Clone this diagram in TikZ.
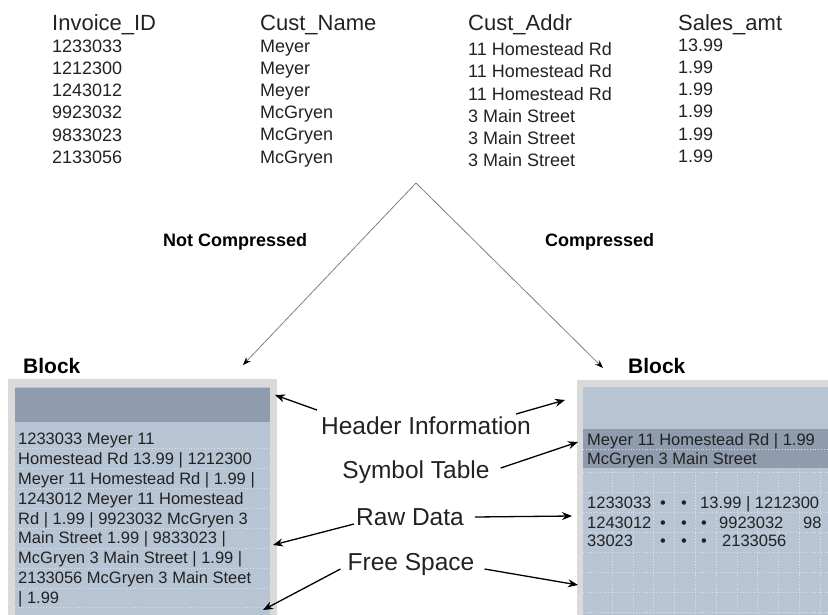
\documentclass[tikz,border=0pt]{standalone}
\usepackage{fontspec}
\setmainfont{Liberation Sans}
\usetikzlibrary{arrows, arrows.meta}
\definecolor{BLK1}{HTML}{B7C4D4}
\definecolor{BLK2}{HTML}{8E9CAE}
\definecolor{BLK3}{HTML}{DADADA}
\definecolor{TXT}{HTML}{222222}
\tikzstyle{colhead} = [anchor=base west, inner sep=0pt, font=\fontsize{22}{26}\selectfont, text=TXT]
\tikzstyle{column} = [anchor=north west, inner sep=0pt, align=left, font=\fontsize{18}{22.2}\selectfont, text=TXT]
\tikzstyle{branch} = [anchor=base west, inner sep=0pt, font=\bfseries\fontsize{18}{22}\selectfont]
\tikzstyle{blocktitle} = [anchor=base west, inner sep=0pt, font=\bfseries\fontsize{21}{25}\selectfont]
\tikzstyle{callout} = [anchor=base, inner sep=0pt, font=\fontsize{24.5}{28}\selectfont, text=TXT]
\tikzstyle{celltext} = [anchor=base west, inner sep=0pt, align=left, font=\fontsize{16.5}{19.8}\selectfont, text=TXT]
\tikzstyle{frame} = [fill=BLK3, draw=none]
\tikzstyle{body} = [fill=BLK1, draw=none]
\tikzstyle{bar} = [fill=BLK2, draw=none]
\tikzstyle{sepline} = [draw=BLK1!55!white, dotted, line width=0.8pt]
\tikzstyle{gridline} = [draw=BLK1!50!white, dotted, line width=0.8pt]
\tikzstyle{arrow} = [line width=1.3pt, -{Stealth[length=10pt,width=8pt]}]
\tikzstyle{split} = [line width=0.8pt, draw=gray, -{Stealth[length=8pt,width=6pt,color=black]}]

\begin{document}
\begin{tikzpicture}[x=1pt, y=-1pt]

\useasboundingbox (0,0) rectangle (828,615);

% table
\node (h1) [colhead] at (52,31) {Invoice\_ID};
\node (h2) [colhead] at (260,31) {Cust\_Name};
\node (h3) [colhead] at (468,31) {Cust\_Addr};
\node (h4) [colhead] at (678,31) {Sales\_amt};

\node (ids) [column] at (52,39.5) {1233033\\1212300\\1243012\\9923032\\9833023\\2133056};
\node (names) [column] at (260,39.5) {Meyer\\Meyer\\Meyer\\McGryen\\McGryen\\McGryen};
\node (addrs) [column] at (468,42.5) {11 Homestead Rd\\11 Homestead Rd\\11 Homestead Rd\\3 Main Street\\3 Main Street\\3 Main Street};
\node (amts) [column] at (678,38.5) {13.99\\1.99\\1.99\\1.99\\1.99\\1.99};

% split
\coordinate (split) at (416,183);
\coordinate (leftin) at (243,365);
\coordinate (rightin) at (603,368);

\node (nc) [branch] at (163,247) {Not Compressed};
\node (cc) [branch] at (545,247) {Compressed};

\draw [split] (split) -- (leftin);
\draw [split] (split) -- (rightin);

% left block
\node (blk1) [blocktitle] at (23,373) {Block};
\fill [frame] (8,379) rectangle (277,615);
\fill [body] (15,387) rectangle (270,615);
\fill [bar] (15,388) rectangle (270,422);
\foreach \y in {448,468,488,508,528,548,568,588,607}
  \draw [sepline] (15,\y) -- (270,\y);

\node (rawtext) [celltext, anchor=north west] at (18,433.2) {1233033 Meyer 11\\Homestead Rd 13.99 | 1212300\\Meyer 11 Homestead Rd | 1.99 |\\1243012 Meyer 11 Homestead\\Rd | 1.99 | 9923032 McGryen 3\\Main Street 1.99 | 9833023 |\\McGryen 3 Main Street | 1.99 |\\2133056 McGryen 3 Main Steet\\| 1.99};

% right block
\node (blk2) [blocktitle] at (628,373) {Block};
\fill [frame] (577,380) rectangle (828,615);
\fill [body] (583,387) rectangle (828,615);
\fill [bar] (583,429) rectangle (828,468);
\draw [sepline] (583,449) -- (828,449);
\foreach \x in {612,633,653,674,695,716,737,757,778,799,820}
  \draw [gridline] (\x,469) -- (\x,615);
\foreach \y in {472,492,512,532,552,572,592,612}
  \draw [gridline] (583,\y) -- (828,\y);

\node (sym1) [celltext] at (587,445) {Meyer 11 Homestead Rd | 1.99};
\node (sym2) [celltext] at (587,464) {McGryen 3 Main Street};

\node (row1) [celltext] at (587,508) {\makebox[73pt][l]{1233033}\makebox[21pt][l]{\textbullet}\makebox[19pt][l]{\textbullet}13.99 | 1212300};
\node (row2) [celltext] at (587,528) {\makebox[73pt][l]{1243012}\makebox[21pt][l]{\textbullet}\makebox[20pt][l]{\textbullet}\makebox[18pt][l]{\textbullet}\makebox[84pt][l]{9923032}98};
\node (row3) [celltext] at (587,546) {\makebox[73pt][l]{33023}\makebox[21pt][l]{\textbullet}\makebox[20pt][l]{\textbullet}\makebox[21pt][l]{\textbullet}2133056};

% callouts
\node (hdr) [callout] at (426,434) {Header Information};
\node (sym) [callout] at (416,478) {Symbol Table};
\node (raw) [callout] at (410,525) {Raw Data};
\node (free) [callout] at (411,570) {Free Space};

\coordinate (hdrL) at (275,395);
\coordinate (hdrR) at (565,400);
\coordinate (symR) at (578,442);
\coordinate (rawL) at (273,545);
\coordinate (rawR) at (572,516);
\coordinate (freeL) at (263,610);
\coordinate (freeR) at (578,585);

\draw [arrow] ([xshift=-4pt,yshift=24pt]hdr.base west) -- (hdrL);
\draw [arrow] ([xshift=-15pt,yshift=20pt]hdr.base east) -- (hdrR);
\draw [arrow] ([xshift=11pt,yshift=10pt]sym.base east) -- (symR);
\draw [arrow] ([xshift=-2pt,yshift=1pt]raw.base west) -- (rawL);
\draw [arrow] ([xshift=11pt,yshift=8pt]raw.base east) -- (rawR);
\draw [arrow] ([xshift=-7pt,yshift=1pt]free.base west) -- (freeL);
\draw [arrow] ([xshift=10pt,yshift=1pt]free.base east) -- (freeR);

\end{tikzpicture}
\end{document}
